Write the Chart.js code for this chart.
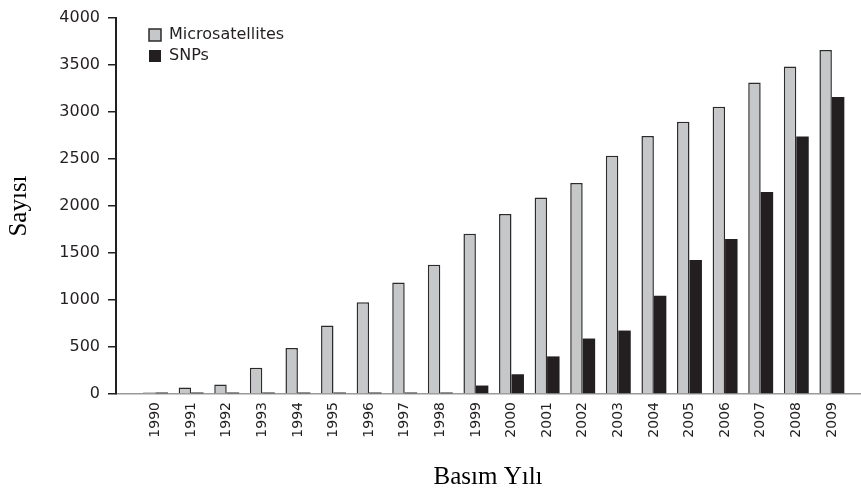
<!DOCTYPE html>
<html>
<head>
<meta charset="utf-8">
<script src="https://cdn.jsdelivr.net/npm/chart.js@4"></script>
<style>
  body { margin: 0; background: #fff; }
  #wrap { width: 861px; height: 496px; }
</style>
</head>
<body>
<div id="wrap"><canvas id="bar-chart"></canvas></div>
<script>
const years = [1990, 1991, 1992, 1993, 1994, 1995, 1996, 1997, 1998, 1999,
  2000, 2001, 2002, 2003, 2004, 2005, 2006, 2007, 2008, 2009];
const microsatellites = [0, 70, 100, 280, 490, 730, 975, 1185, 1375, 1705,
  1915, 2090, 2245, 2535, 2745, 2895, 3055, 3315, 3485, 3660];
const snps = [0, 0, 0, 0, 0, 0, 0, 0, 15, 90,
  210, 400, 590, 675, 1045, 1425, 1650, 2150, 2740, 3160];
const yTicks = [0, 500, 1000, 1500, 2000, 2500, 3000, 3500, 4000];

const FONT = "'DejaVu Sans', sans-serif";
const SERIF = "'Liberation Serif', 'Times New Roman', serif";
const INK = "#231f20";

// legend sits inside the plot, nudged right of the y axis
const shiftLegend = {
  id: "shiftLegend",
  afterLayout(chart) {
    chart.legend.left += 28;
    chart.legend.top += 22;
  },
};

const data = {
  datasets: [
    {
      label: "Microsatellites",
      data: years.map((y, i) => ({ x: y, y: microsatellites[i] })),
      backgroundColor: "#c6c7c9",
      borderColor: "#2b2b2b",
      borderWidth: 1.5,
      minBarLength: 1.5,
    },
    {
      label: "SNPs",
      data: years.map((y, i) => ({ x: y, y: snps[i] })),
      backgroundColor: INK,
      borderColor: INK,
      borderWidth: 0,
      minBarLength: 1.5,
    },
  ],
};

const config = {
  type: "bar",
  data: data,
  plugins: [shiftLegend],
  options: {
    responsive: true,
    maintainAspectRatio: false,
    animation: false,
    barPercentage: 1,
    categoryPercentage: 0.7,
    layout: { padding: { top: 18, right: 1, left: 0, bottom: 0 } },
    plugins: {
      tooltip: { enabled: false },
      legend: {
        position: "chartArea",
        align: "start",
        labels: {
          boxWidth: 12,
          boxHeight: 12,
          padding: 5,
          color: INK,
          font: { family: FONT, size: 16 },
        },
      },
    },
    scales: {
      x: {
        type: "linear",
        offset: false,
        min: 1988.89,
        max: 2009.79,
        afterBuildTicks: (axis) => {
          axis.ticks = years.map((v) => ({ value: v }));
        },
        afterFit: (s) => { s.height = 102; },
        grid: { display: false, drawTicks: false },
        border: { color: "#9a9a9a", width: 1.5 },
        ticks: {
          autoSkip: false,
          minRotation: 90,
          maxRotation: 90,
          padding: 8,
          color: INK,
          font: { family: FONT, size: 14 },
          callback: (v) => String(v),
        },
        title: {
          display: true,
          text: "Basım Yılı",
          color: "#000",
          font: { family: SERIF, size: 25 },
          padding: { top: 0, bottom: 4 },
        },
      },
      y: {
        min: 0,
        max: 4000,
        afterBuildTicks: (axis) => {
          axis.ticks = yTicks.map((v) => ({ value: v }));
        },
        afterFit: (s) => { s.width = 116; },
        grid: {
          drawOnChartArea: false,
          drawTicks: true,
          tickLength: 8,
          color: INK,
          lineWidth: 1.5,
        },
        border: { color: INK, width: 2 },
        ticks: {
          padding: 8,
          color: INK,
          font: { family: FONT, size: 16 },
          callback: (v) => String(v),
        },
        title: {
          display: true,
          text: "Sayısı",
          color: "#000",
          font: { family: SERIF, size: 25 },
          padding: { top: 4, bottom: 0 },
        },
      },
    },
  },
};

var ctx = document.getElementById("bar-chart").getContext("2d");
var myChart = new Chart(ctx, config);
</script>
</body>
</html>
